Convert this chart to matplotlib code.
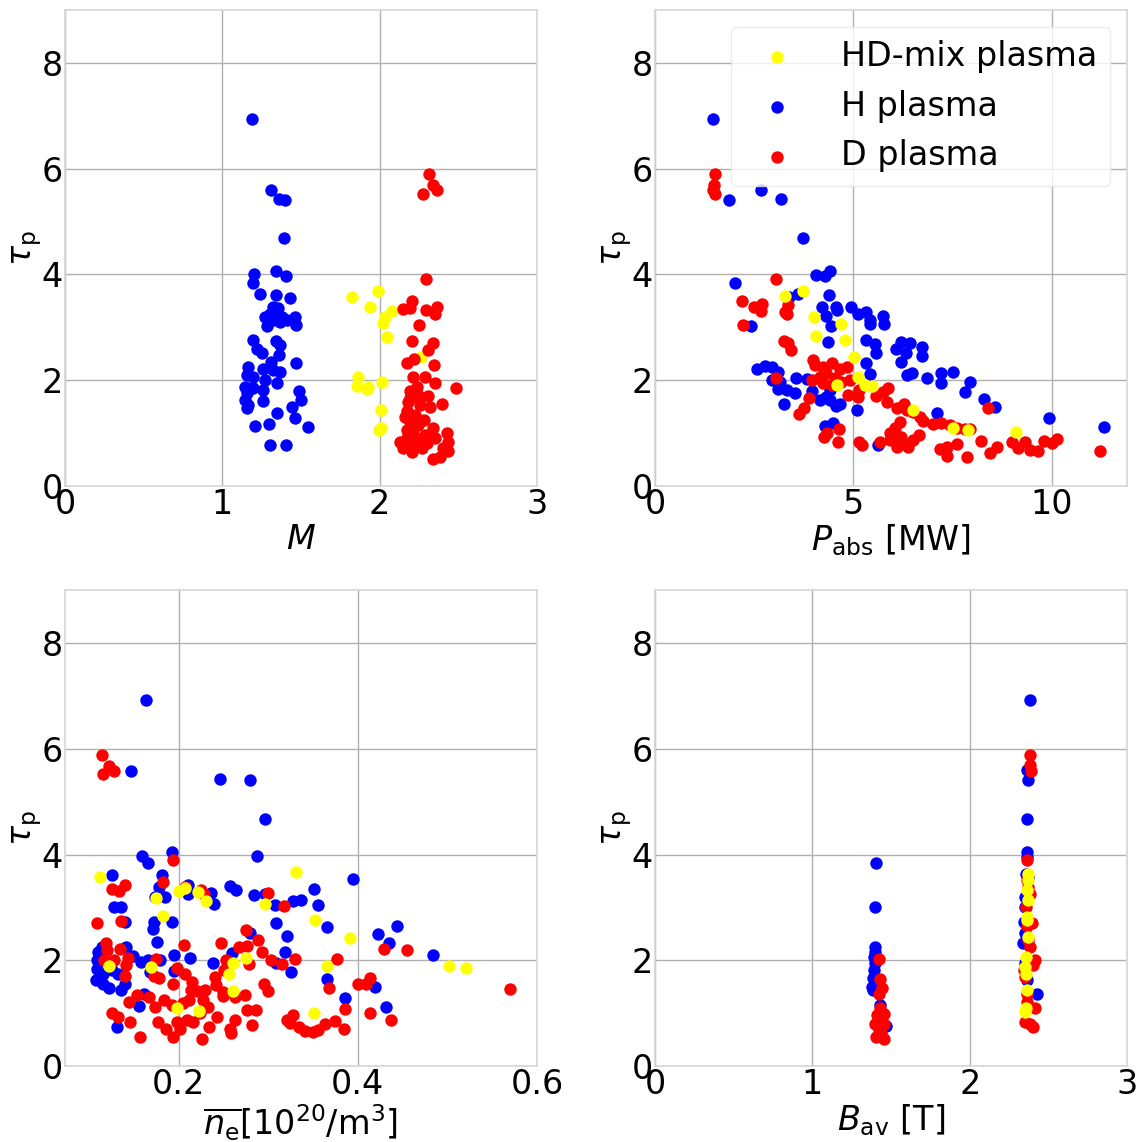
import numpy as np
import matplotlib
matplotlib.use("Agg")
import matplotlib.pyplot as plt

# ---- mass number M vs tau_p ----
m_H = [1.187, 1.31, 1.36, 1.40, 1.39, 1.20, 1.198, 1.34, 1.405, 1.24, 1.34, 1.43,
       1.324, 1.356, 1.303, 1.346, 1.377, 1.271, 1.324, 1.367, 1.282, 1.409, 1.462, 1.468,
       1.197, 1.218, 1.25, 1.341, 1.367, 1.362, 1.307, 1.468, 1.165, 1.155, 1.197, 1.261,
       1.324, 1.367, 1.271, 1.345, 1.144, 1.197, 1.261, 1.155, 1.144, 1.165, 1.155, 1.256,
       1.489, 1.497, 1.443, 1.349, 1.462, 1.208, 1.295, 1.547, 1.303, 1.403]
tm_H = [6.94, 5.60, 5.43, 5.41, 4.69, 4.00, 3.84, 4.06, 3.98, 3.64, 3.61, 3.55,
        3.39, 3.36, 3.26, 3.23, 3.20, 3.20, 3.14, 3.10, 3.02, 3.14, 3.20, 3.04,
        2.76, 2.60, 2.51, 2.75, 2.67, 2.48, 2.35, 2.32, 2.25, 2.10, 2.07, 2.22,
        2.19, 2.16, 2.00, 1.94, 1.88, 1.85, 1.82, 1.75, 1.63, 1.53, 1.47, 1.61,
        1.79, 1.63, 1.50, 1.38, 1.29, 1.14, 1.18, 1.11, 0.78, 0.77]
m_D = [2.312, 2.337, 2.362, 2.274, 2.293, 2.204, 2.151, 2.193, 2.294, 2.362, 2.351, 2.252,
       2.204, 2.341, 2.309, 2.172, 2.219, 2.347, 2.210, 2.288, 2.351, 2.483,
       2.193, 2.246, 2.183, 2.256, 2.320, 2.394, 2.172, 2.225, 2.193, 2.246, 2.172, 2.337,
       2.426, 2.130, 2.172, 2.246, 2.299, 2.351, 2.437, 2.151, 2.204, 2.267, 2.341, 2.384,
       2.405, 2.437, 2.214, 2.288, 2.193, 2.235, 2.160, 2.280, 2.310, 2.205]
tm_D = [5.90, 5.69, 5.60, 5.53, 3.91, 3.50, 3.34, 3.36, 3.33, 3.39, 3.26, 3.04,
        2.75, 2.70, 2.57, 2.32, 2.41, 2.29, 2.07, 2.07, 1.94, 1.85,
        1.79, 1.72, 1.59, 1.53, 1.50, 1.55, 1.41, 1.35, 1.22, 1.16, 1.06, 1.09,
        1.01, 0.84, 0.90, 0.87, 0.81, 0.90, 0.84, 0.71, 0.65, 0.71, 0.52, 0.55,
        0.71, 0.66, 0.99, 0.96, 1.66, 1.88, 1.30, 1.25, 1.70, 0.76]
m_HD = [1.824, 1.990, 1.939, 2.076, 2.034, 2.019, 2.049, 2.261, 1.865, 1.854, 1.918,
        1.928, 2.015, 2.007, 2.007, 1.998, 2.214]
tm_HD = [3.58, 3.69, 3.38, 3.31, 3.20, 3.09, 2.81, 2.44, 2.07, 1.89, 1.83,
         1.87, 1.97, 1.44, 1.09, 1.06, 0.99]

# ---- absorbed power P_abs [MW] vs tau_p ----
p_H = [1.45, 1.87, 2.67, 3.17, 3.74, 2.02, 4.05, 4.28, 4.41, 3.38, 3.61, 4.38,
       4.20, 4.56, 4.58, 4.93, 5.12, 5.31, 5.42, 5.43, 5.75, 5.78, 4.32, 4.43,
       2.43, 4.35, 5.33, 5.54, 5.56, 6.07, 6.21, 6.42, 6.32, 6.72, 6.73, 6.20,
       5.31, 6.34, 6.47, 6.86, 7.20, 7.22, 7.51, 7.95, 7.82, 8.30, 8.56, 9.93,
       11.31, 5.42, 2.56, 2.77, 2.94, 3.11, 2.96, 3.15, 3.11, 3.32, 3.53, 3.55,
       3.82, 3.26, 3.95, 4.16, 4.32, 4.41, 4.41, 4.56, 4.66, 5.08, 4.28, 4.49,
       5.63, 7.10]
tp_H = [6.94, 5.41, 5.60, 5.43, 4.69, 3.84, 3.99, 3.98, 4.06, 3.57, 3.63, 3.61,
        3.39, 3.38, 3.33, 3.39, 3.26, 3.29, 3.14, 3.06, 3.22, 3.06, 3.22, 3.03,
        3.03, 2.73, 2.76, 2.68, 2.51, 2.60, 2.73, 2.71, 2.52, 2.63, 2.46, 2.35,
        2.32, 2.10, 2.13, 2.05, 2.14, 1.95, 2.16, 1.97, 1.78, 1.64, 1.50, 1.29,
        1.11, 2.12, 2.22, 2.27, 2.25, 2.16, 2.00, 1.97, 1.84, 1.81, 1.75, 2.04,
        2.02, 1.56, 1.79, 1.63, 1.69, 1.81, 1.63, 1.51, 1.56, 1.43, 1.14, 1.19,
        0.78, 1.38]
p_D = [1.50, 1.49, 1.47, 1.52, 3.04, 2.18, 2.49, 2.69, 2.67, 3.27, 3.34, 3.32,
       2.22, 3.25, 3.34, 3.43, 3.99, 3.05, 4.03, 4.24, 4.45, 4.66, 4.83, 3.95,
       4.16, 4.32, 4.53, 4.70, 4.91, 4.45, 4.24, 4.87, 5.12, 5.15, 3.89, 3.75,
       3.63, 5.56, 5.75, 5.88, 5.85, 6.09, 6.27, 6.34, 6.51, 6.67, 6.76, 7.01,
       7.22, 7.43, 7.60, 7.81, 7.94, 8.40, 6.17, 6.05, 5.92, 6.21, 6.51, 6.66,
       6.09, 6.30, 6.38, 5.67, 5.92, 5.15, 5.21, 4.62, 4.63, 4.26, 4.34, 7.18,
       7.35, 7.60, 7.87, 7.35, 8.23, 8.44, 8.61, 9.01, 9.15, 9.32, 9.45, 9.66,
       9.81, 10.0, 10.13, 11.21]
tp_D = [5.90, 5.69, 5.60, 5.53, 3.91, 3.50, 3.38, 3.44, 3.31, 3.30, 3.42, 3.26,
        3.04, 2.75, 2.70, 2.57, 2.39, 2.04, 2.29, 2.26, 2.32, 2.22, 2.26, 2.00,
        2.06, 2.13, 2.04, 1.97, 2.00, 1.91, 1.94, 1.72, 1.69, 1.81, 1.66, 1.47,
        1.36, 1.70, 1.78, 1.86, 1.58, 1.47, 1.56, 1.43, 1.40, 1.31, 1.23, 1.18,
        1.20, 1.16, 1.09, 1.07, 1.07, 1.47, 1.21, 1.09, 1.00, 0.93, 0.87, 0.96,
        0.74, 0.79, 0.74, 0.84, 0.87, 0.84, 0.78, 0.84, 1.07, 0.93, 1.00, 0.70,
        0.56, 0.79, 0.54, 0.74, 0.86, 0.62, 0.74, 0.84, 0.71, 0.84, 0.68, 0.66,
        0.86, 0.81, 0.89, 0.66]
p_HD = [3.27, 3.74, 4.01, 4.70, 4.06, 4.79, 5.01, 5.12, 5.29, 5.46, 6.51, 7.51,
        7.89, 9.11, 4.58]
tp_HD = [3.59, 3.69, 3.20, 3.06, 2.84, 2.77, 2.44, 2.07, 1.91, 1.89, 1.43, 1.09,
         1.06, 1.02, 1.91]

# ---- line-averaged density n_e [1e20 m^-3] vs tau_p ----
n_H = [0.164, 0.147, 0.246, 0.280, 0.296, 0.287, 0.159, 0.166, 0.192, 0.125, 0.181, 0.178,
       0.173, 0.185, 0.128, 0.135, 0.140, 0.172, 0.171, 0.192, 0.176, 0.210, 0.236, 0.239,
       0.257, 0.264, 0.284, 0.296, 0.308, 0.328, 0.336, 0.351, 0.356, 0.395, 0.309, 0.321,
       0.365, 0.280, 0.319, 0.325, 0.309, 0.423, 0.435, 0.444, 0.484, 0.419, 0.431, 0.386,
       0.366, 0.238, 0.213, 0.195, 0.259, 0.166, 0.179, 0.158, 0.195, 0.168, 0.110, 0.114,
       0.109, 0.109, 0.115, 0.108, 0.115, 0.122, 0.132, 0.140, 0.135, 0.141, 0.149, 0.125,
       0.156, 0.161, 0.131, 0.210]
tn_H = [6.93, 5.58, 5.42, 5.40, 4.68, 3.97, 3.98, 3.83, 4.05, 3.61, 3.61, 3.39,
        3.20, 3.20, 3.01, 3.01, 2.73, 2.73, 2.60, 2.73, 2.35, 3.26, 3.28, 3.07,
        3.40, 3.32, 3.24, 3.25, 3.04, 3.12, 3.14, 3.35, 3.05, 3.53, 2.70, 2.46,
        2.62, 2.51, 2.16, 1.77, 1.94, 2.50, 2.32, 2.65, 2.10, 1.49, 1.11, 1.28,
        1.64, 1.94, 2.04, 2.10, 2.13, 2.00, 2.00, 1.97, 1.79, 1.77, 2.16, 2.25,
        2.00, 1.84, 1.75, 1.63, 1.56, 1.47, 1.75, 1.55, 1.44, 2.25, 2.08, 1.81,
        1.13, 1.37, 0.74, 3.42]
n_D = [0.114, 0.122, 0.128, 0.115, 0.194, 0.182, 0.140, 0.125, 0.133, 0.207, 0.225, 0.228,
       0.300, 0.317, 0.109, 0.136, 0.275, 0.289, 0.276, 0.267, 0.247, 0.206, 0.119, 0.120,
       0.134, 0.143, 0.128, 0.117, 0.141, 0.140, 0.175, 0.198, 0.207, 0.172, 0.178, 0.194,
       0.215, 0.214, 0.220, 0.229, 0.240, 0.242, 0.249, 0.249, 0.253, 0.250, 0.274, 0.263,
       0.279, 0.293, 0.303, 0.315, 0.330, 0.377, 0.295, 0.300, 0.145, 0.153, 0.167, 0.174,
       0.183, 0.192, 0.205, 0.212, 0.227, 0.233, 0.224, 0.125, 0.132, 0.146, 0.157, 0.177,
       0.186, 0.194, 0.198, 0.201, 0.209, 0.216, 0.226, 0.234, 0.243, 0.257, 0.258, 0.263,
       0.276, 0.286, 0.282, 0.324, 0.328, 0.334, 0.341, 0.350, 0.356, 0.363, 0.374, 0.384,
       0.386, 0.368, 0.400, 0.409, 0.413, 0.413, 0.437, 0.429, 0.455, 0.570, 0.321]
tn_D = [5.88, 5.67, 5.58, 5.52, 3.89, 3.48, 3.42, 3.34, 3.31, 3.39, 3.33, 3.26,
        3.27, 3.03, 2.70, 2.75, 2.57, 2.39, 2.27, 2.26, 2.32, 2.29, 2.32, 2.19,
        2.22, 2.05, 2.01, 2.01, 1.91, 1.70, 2.03, 1.86, 1.75, 1.70, 1.67, 1.56,
        1.59, 1.44, 1.41, 1.44, 1.69, 1.53, 1.40, 1.32, 2.00, 1.81, 1.34, 1.31,
        1.93, 2.16, 2.00, 1.93, 2.02, 2.03, 1.55, 1.42, 1.22, 1.34, 1.31, 1.11,
        1.25, 1.15, 1.20, 1.25, 1.25, 1.12, 1.00, 1.01, 0.92, 0.83, 0.54, 0.84,
        0.71, 0.55, 0.84, 0.71, 0.87, 0.84, 0.52, 0.74, 0.92, 0.71, 0.62, 0.87,
        1.06, 1.06, 0.77, 0.81, 0.96, 0.74, 0.66, 0.65, 0.68, 0.79, 0.86, 0.70,
        1.07, 1.47, 1.55, 1.55, 1.66, 1.01, 0.88, 2.22, 2.19, 1.46, 0.88]
n_HD = [0.112, 0.200, 0.207, 0.221, 0.230, 0.175, 0.182, 0.296, 0.331, 0.352, 0.391, 0.122,
        0.169, 0.261, 0.275, 0.256, 0.261, 0.366, 0.502, 0.521, 0.198, 0.223, 0.351]
tn_HD = [3.58, 3.31, 3.36, 3.30, 3.12, 3.17, 2.84, 3.06, 3.67, 2.77, 2.43, 1.90,
         1.88, 1.95, 2.05, 1.75, 1.42, 1.89, 1.89, 1.85, 1.09, 1.04, 1.01]

# ---- averaged field B_av [T] vs tau_p ----
b_H = [1.405, 1.401, 1.401, 1.395, 1.393, 1.397, 1.389, 1.385, 1.380, 1.385, 1.430, 1.468,
       2.384, 2.373, 2.363, 2.367, 2.363, 2.367, 2.373, 2.352, 2.352, 2.346, 2.352, 2.341,
       2.352, 2.363, 2.430, 2.360]
tb_H = [3.83, 3.01, 2.25, 2.16, 2.07, 1.94, 1.82, 1.66, 1.50, 1.44, 1.16, 0.76,
        6.93, 5.41, 5.60, 4.68, 4.05, 3.96, 3.58, 3.20, 3.01, 2.73, 2.51, 2.32,
        1.94, 1.63, 1.36, 3.64]
b_D = [1.422, 1.430, 1.440, 1.426, 1.430, 1.409, 1.452, 1.430, 1.398, 1.452, 1.426, 1.405,
       1.456, 1.437, 2.384, 2.384, 2.390, 2.367, 2.373, 2.384, 2.363, 2.395, 2.384, 2.416,
       2.405, 2.352, 2.367, 2.363, 2.416, 2.352, 2.384, 2.405, 2.346, 2.373, 2.360, 2.363]
tb_D = [2.03, 1.64, 1.47, 1.36, 1.09, 0.97, 0.99, 0.87, 0.80, 0.80, 0.68, 0.54,
        0.52, 0.63, 5.88, 5.69, 5.58, 3.89, 3.39, 3.26, 2.64, 2.70, 2.25, 2.00,
        1.91, 1.69, 1.37, 1.22, 1.09, 0.84, 0.80, 0.73, 1.81, 2.38, 3.01, 3.51]
b_HD = [2.373, 2.373, 2.367, 2.373, 2.367, 2.363, 2.373, 2.358, 2.352, 2.358, 2.363, 2.358,
        2.352]
tb_HD = [3.64, 3.52, 3.33, 3.14, 2.82, 2.76, 2.44, 2.07, 1.88, 1.75, 1.44, 1.09, 1.03]

C_HD, C_H, C_D = "#ffff00", "#0000ff", "#ff0000"
FS = 24

fig = plt.figure(figsize=(11.44, 11.42), dpi=100)
W, H = 0.4126, 0.4168
positions = [(0.0568, 0.5744), (0.5726, 0.5744), (0.0568, 0.0665), (0.5726, 0.0665)]
axes = [fig.add_axes([x, y, W, H]) for x, y in positions]

panels = [
    (m_HD, tm_HD, m_H, tm_H, m_D, tm_D, r"$M$", (0, 3), [0, 1, 2, 3], ["0", "1", "2", "3"]),
    (p_HD, tp_HD, p_H, tp_H, p_D, tp_D, r"$P_\mathrm{abs}$ [MW]", (0, 11.9), [0, 5, 10], ["0", "5", "10"]),
    (n_HD, tn_HD, n_H, tn_H, n_D, tn_D, r"$\overline{n_\mathrm{e}}[10^{20}/\mathrm{m}^3]$",
     (0.073, 0.6), [0.2, 0.4, 0.6], ["0.2", "0.4", "0.6"]),
    (b_HD, tb_HD, b_H, tb_H, b_D, tb_D, r"$B_\mathrm{av}$ [T]", (0, 3), [0, 1, 2, 3], ["0", "1", "2", "3"]),
]

S = 80
for i, (ax, (xh, yh, xb, yb, xd, yd, xl, xlim, xt, xtl)) in enumerate(zip(axes, panels)):
    if i == 0:
        z_hd, z_h, z_d = 2, 3, 4
    else:
        z_hd, z_h, z_d = 4, 2, 3
    ax.scatter(xh, yh, s=S, c=C_HD, linewidths=0, zorder=z_hd, label="HD-mix plasma")
    ax.scatter(xb, yb, s=S, c=C_H, linewidths=0, zorder=z_h, label="H plasma")
    ax.scatter(xd, yd, s=S, c=C_D, linewidths=0, zorder=z_d, label="D plasma")
    ax.set_xlim(*xlim)
    ax.set_ylim(0, 9)
    ax.set_xticks(xt)
    ax.set_xticklabels(xtl)
    ax.set_yticks([0, 2, 4, 6, 8])
    ax.set_yticklabels(["0", "2", "4", "6", "8"])
    ax.tick_params(labelsize=FS, length=0, pad=1.5)
    ax.grid(True, color="#b0b0b0", linewidth=1.0)
    ax.set_axisbelow(True)
    for sp in ax.spines.values():
        sp.set_color("#d6d6d6")
        sp.set_linewidth(1.2)
    ax.set_xlabel(xl, fontsize=FS, labelpad=1)
    ax.set_ylabel(r"$\tau_\mathrm{p}$", fontsize=FS, labelpad=-2)
    if i == 1:
        ax.legend(loc="upper right", fontsize=FS, framealpha=0.8, edgecolor="#e6e6e6",
                  handlelength=2.0, handletextpad=0.9, borderpad=0.4, labelspacing=0.5,
                  markerscale=1.0)

fig.savefig("out.png", dpi=100)
